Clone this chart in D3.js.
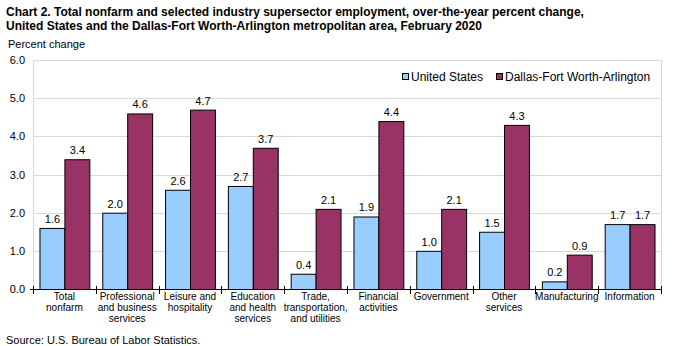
<!DOCTYPE html>
<html>
<head>
<meta charset="utf-8">
<script src="https://cdn.jsdelivr.net/npm/d3@7"></script>
<style>
  body { margin: 0; background: #fff; }
  svg { font-family: "Liberation Sans", Arial, sans-serif; }
</style>
</head>
<body>
<svg id="chart" width="673" height="346"></svg>
<script>
// categories, with their wrapped label lines
const categories = ["Total nonfarm", "Professional and business services", "Leisure and hospitality",
  "Education and health services", "Trade, transportation, and utilities", "Financial activities",
  "Government", "Other services", "Manufacturing", "Information"];
const labelLines = [
  ["Total", "nonfarm"],
  ["Professional", "and business", "services"],
  ["Leisure and", "hospitality"],
  ["Education", "and health", "services"],
  ["Trade,", "transportation,", "and utilities"],
  ["Financial", "activities"],
  ["Government"],
  ["Other", "services"],
  ["Manufacturing"],
  ["Information"]
];
const seriesNames = ["United States", "Dallas-Fort Worth-Arlington"];
const unitedStates = [1.6, 2.0, 2.6, 2.7, 0.4, 1.9, 1.0, 1.5, 0.2, 1.7];
const dallas = [3.4, 4.6, 4.7, 3.7, 2.1, 4.4, 2.1, 4.3, 0.9, 1.7];
const yTicks = [0, 1, 2, 3, 4, 5, 6];
const colors = ["#99ccff", "#993366"];

const svg = d3.select("#chart");
const plotLeft = 33, plotRight = 661, plotTop = 60, plotBottom = 289;

const x = d3.scaleBand().domain(categories).range([plotLeft, plotRight]).paddingInner(0).paddingOuter(0);
const x1 = d3.scaleBand().domain(seriesNames).range([0, x.bandwidth()]).paddingInner(0).paddingOuter(0.26);
const y = d3.scaleLinear().domain([0, 6]).range([plotBottom, plotTop]);

// title
svg.append("text").attr("x", 6).attr("y", 16)
  .attr("font-size", 12).attr("font-weight", "bold")
  .text("Chart 2. Total nonfarm and selected industry supersector employment, over-the-year percent change,");
svg.append("text").attr("x", 6).attr("y", 30)
  .attr("font-size", 12).attr("font-weight", "bold")
  .text("United States and the Dallas-Fort Worth-Arlington metropolitan area, February 2020");
svg.append("text").attr("x", 8).attr("y", 48).attr("font-size", 11).text("Percent change");

// plot frame and gridlines
svg.append("rect").attr("x", plotLeft + 0.5).attr("y", plotTop + 0.5)
  .attr("width", plotRight - plotLeft).attr("height", plotBottom - plotTop)
  .attr("fill", "none").attr("stroke", "#d9d9d9");
svg.append("g").selectAll("line").data(yTicks.filter(d => d > 0)).join("line")
  .attr("x1", plotLeft).attr("x2", plotRight)
  .attr("y1", d => Math.round(y(d)) + 0.5).attr("y2", d => Math.round(y(d)) + 0.5)
  .attr("stroke", "#d9d9d9");

// y axis labels
svg.append("g").selectAll("text").data(yTicks).join("text")
  .attr("x", 25).attr("y", d => y(d) + 4).attr("text-anchor", "end")
  .attr("font-size", 11).text(d => d.toFixed(1));

// bars
const series = [unitedStates, dallas];
series.forEach((vals, si) => {
  const g = svg.append("g");
  g.selectAll("rect").data(vals).join("rect")
    .attr("x", (d, i) => x(categories[i]) + x1(seriesNames[si]) + 0.5)
    .attr("y", d => y(d) + 0.5)
    .attr("width", x1.bandwidth())
    .attr("height", d => plotBottom - y(d))
    .attr("fill", colors[si]).attr("stroke", "#000").attr("stroke-width", 1);
  g.selectAll("text").data(vals).join("text")
    .attr("x", (d, i) => x(categories[i]) + x1(seriesNames[si]) + x1.bandwidth() / 2 + 0.5)
    .attr("y", d => y(d) - 5)
    .attr("text-anchor", "middle").attr("font-size", 11)
    .text(d => d.toFixed(1));
});

// x axis
const xAxis = svg.append("g");
xAxis.append("line").attr("x1", plotLeft - 3).attr("x2", plotRight)
  .attr("y1", plotBottom + 0.5).attr("y2", plotBottom + 0.5)
  .attr("stroke", "#000");
const ticks = categories.map(c => x(c)).concat([plotRight]);
xAxis.selectAll("line.tick").data(ticks).join("line").attr("class", "tick")
  .attr("x1", d => Math.round(d) + 0.5).attr("x2", d => Math.round(d) + 0.5)
  .attr("y1", plotBottom - 3).attr("y2", plotBottom + 5).attr("stroke", "#000");

const labels = svg.append("g").selectAll("text").data(categories).join("text")
  .attr("x", d => x(d) + x.bandwidth() / 2)
  .attr("y", 300).attr("text-anchor", "middle").attr("font-size", 10);
labels.each(function(d, i) {
  d3.select(this).selectAll("tspan").data(labelLines[i]).join("tspan")
    .attr("x", x(d) + x.bandwidth() / 2)
    .attr("dy", (t, j) => j === 0 ? 0 : 11)
    .text(t => t);
});

// legend
const legendX = [402, 496];
seriesNames.forEach((name, i) => {
  svg.append("rect").attr("x", legendX[i] + 0.5).attr("y", 73.5).attr("width", 6).attr("height", 6)
    .attr("fill", colors[i]).attr("stroke", "#000");
  svg.append("text").attr("x", legendX[i] + 9).attr("y", 81).attr("font-size", 12).text(name);
});

svg.append("text").attr("x", 6).attr("y", 344).attr("font-size", 11)
  .text("Source: U.S. Bureau of Labor Statistics.");
</script>
</body>
</html>
